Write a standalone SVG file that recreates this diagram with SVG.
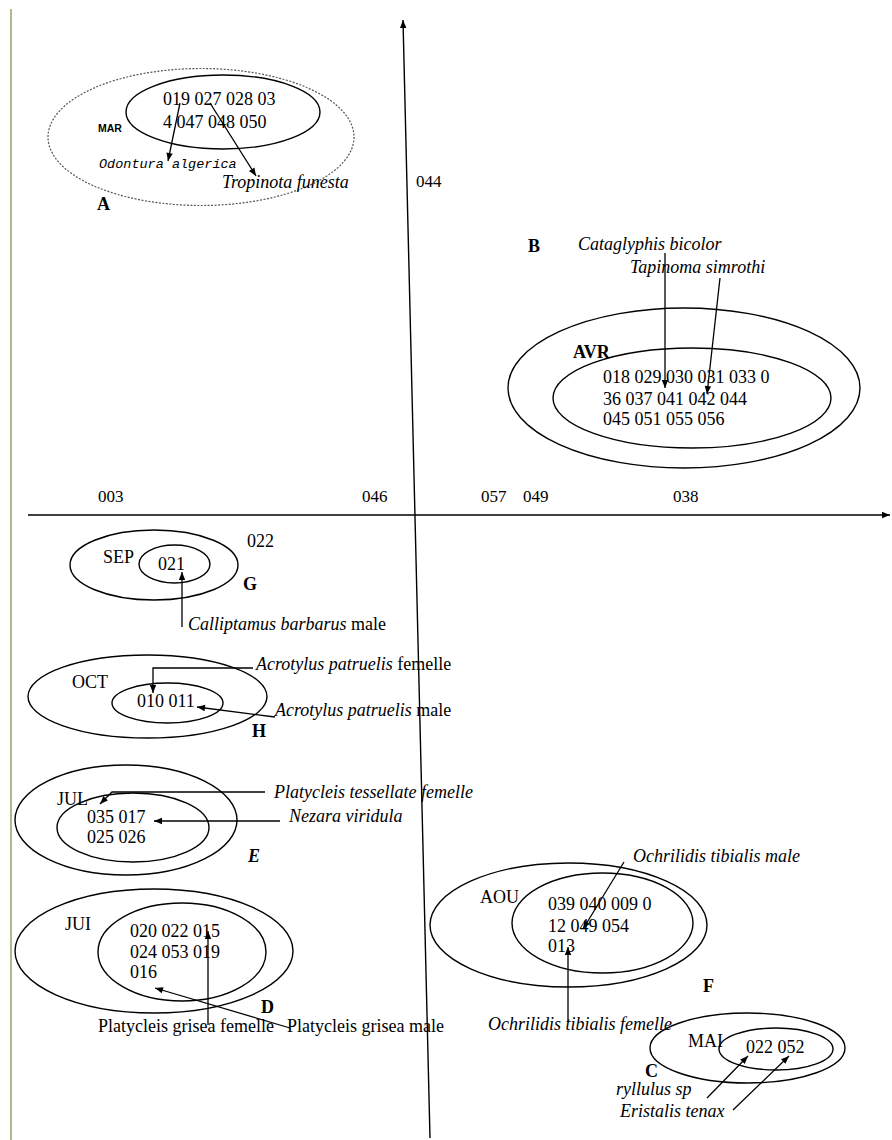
<svg xmlns="http://www.w3.org/2000/svg" width="892" height="1140" viewBox="0 0 892 1140">
<style>
text{font-family:"Liberation Serif","Times New Roman",serif;font-size:18px;fill:#000}
.i{font-style:italic}
.b{font-weight:bold}
.e{fill:none;stroke:#000;stroke-width:1.4}
.ln{fill:none;stroke:#000;stroke-width:1.3}
.ax{fill:none;stroke:#000;stroke-width:1.4}
.num{font-size:17px}
</style>
<defs>
<marker id="ah" viewBox="0 0 10 10" refX="10" refY="5" markerWidth="9" markerHeight="8" markerUnits="userSpaceOnUse" orient="auto"><path d="M0,1 L10,5 L0,9 z" fill="#000"/></marker>
</defs>
<rect width="892" height="1140" fill="#fff"/>
<line x1="11" y1="9" x2="11" y2="1140" stroke="#a9bc8c" stroke-width="2"/>
<g id="axes">
<line class="ax" x1="430" y1="1138" x2="403" y2="20" marker-end="url(#ah)"/>
<line class="ax" x1="28" y1="515" x2="890" y2="515" marker-end="url(#ah)"/>
<text x="416" y="187" class="num">044</text>
<text x="98" y="502" class="num">003</text>
<text x="362" y="502" class="num">046</text>
<text x="481" y="502" class="num">057</text>
<text x="523" y="502" class="num">049</text>
<text x="673" y="502" class="num">038</text>
</g>
<g id="cluster-A">
<ellipse cx="201" cy="137" rx="153" ry="68.5" fill="none" stroke="#555" stroke-width="1.2" stroke-dasharray="2,1.5"/>
<ellipse class="e" cx="223" cy="112" rx="97" ry="37"/>
<text x="163" y="105">019 027 028 03</text>
<text x="163" y="128">4 047 048 050</text>
<text x="98" y="132" style="font-family:'Liberation Sans',Arial,sans-serif;font-size:10.5px;font-weight:900">MAR</text>
<text x="99" y="168" class="i" style="font-family:'Liberation Mono','Courier New',monospace;font-size:13.5px">Odontura algerica</text>
<text x="222" y="188" class="i">Tropinota funesta</text>
<text x="97" y="210" class="b">A</text>
</g>
<g id="cluster-B">
<ellipse class="e" cx="684" cy="388" rx="176" ry="80"/>
<ellipse class="e" cx="692" cy="398" rx="139" ry="50"/>
<text x="528" y="252" class="b">B</text>
<text x="578" y="250" class="i">Cataglyphis bicolor</text>
<text x="630" y="273" class="i">Tapinoma simrothi</text>
<text x="573" y="358" class="b">AVR</text>
<text x="603" y="383">018 029 030 031 033 0</text>
<text x="603" y="405">36 037 041 042 044</text>
<text x="603" y="425">045 051 055 056</text>
</g>
<g id="cluster-G">
<ellipse class="e" cx="154" cy="565" rx="84" ry="35"/>
<ellipse class="e" cx="174.5" cy="564" rx="35.5" ry="19"/>
<text x="103" y="563">SEP</text>
<text x="158" y="570">021</text>
<text x="247" y="547">022</text>
<text x="243" y="590" class="b">G</text>
<text x="188" y="630"><tspan class="i">Calliptamus barbarus</tspan> male</text>
</g>
<g id="cluster-H">
<ellipse class="e" cx="147.5" cy="696.5" rx="119.5" ry="41.5"/>
<ellipse class="e" cx="167.5" cy="703" rx="55.5" ry="20"/>
<text x="72" y="688">OCT</text>
<text x="137" y="707">010 011</text>
<text x="252" y="737" class="b">H</text>
<text x="256" y="670"><tspan class="i">Acrotylus patruelis</tspan> femelle</text>
<text x="275" y="716"><tspan class="i">Acrotylus patruelis</tspan> male</text>
</g>
<g id="cluster-E">
<ellipse class="e" cx="126" cy="820" rx="111" ry="55"/>
<ellipse class="e" cx="133" cy="827.5" rx="76" ry="34.5"/>
<text x="57" y="805">JUL</text>
<text x="87" y="823">035 017</text>
<text x="87" y="843">025 026</text>
<text x="248" y="862" class="b i">E</text>
<text x="274" y="798" class="i">Platycleis tessellate femelle</text>
<text x="289" y="822" class="i">Nezara viridula</text>
</g>
<g id="cluster-D">
<ellipse class="e" cx="154" cy="951" rx="139" ry="62"/>
<ellipse class="e" cx="182" cy="952" rx="84" ry="49"/>
<text x="65" y="930">JUI</text>
<text x="130" y="937">020 022 015</text>
<text x="130" y="958">024 053 019</text>
<text x="130" y="978">016</text>
<text x="261" y="1013" class="b">D</text>
<text x="98" y="1032">Platycleis grisea femelle</text>
<text x="287" y="1032">Platycleis grisea male</text>
</g>
<g id="cluster-F">
<ellipse class="e" cx="568.5" cy="925" rx="138.5" ry="62"/>
<ellipse class="e" cx="602.5" cy="923" rx="90.5" ry="50"/>
<text x="480" y="903">AOU</text>
<text x="548" y="910">039 040 009 0</text>
<text x="548" y="932">12 049 054</text>
<text x="548" y="952">013</text>
<text x="703" y="992" class="b">F</text>
<text x="633" y="862" class="i">Ochrilidis tibialis male</text>
<text x="488" y="1030" class="i">Ochrilidis tibialis femelle</text>
</g>
<g id="cluster-C">
<ellipse class="e" cx="747.5" cy="1048" rx="97.5" ry="35"/>
<ellipse class="e" cx="776" cy="1049" rx="57" ry="21"/>
<text x="688" y="1047">MAI</text>
<text x="746" y="1053">022 052</text>
<text x="645" y="1077" class="b">C</text>
<text x="616" y="1095" class="i">ryllulus sp</text>
<text x="620" y="1117" class="i">Eristalis tenax</text>
</g>
<g id="connectors">
<line class="ln" x1="180" y1="103" x2="168" y2="161" marker-end="url(#ah)"/>
<line class="ln" x1="210" y1="103" x2="256" y2="176" marker-end="url(#ah)"/>
<line class="ln" x1="665" y1="253" x2="665" y2="388" marker-end="url(#ah)"/>
<line class="ln" x1="720" y1="278" x2="707" y2="394" marker-end="url(#ah)"/>
<line class="ln" x1="182" y1="627" x2="182" y2="572" marker-end="url(#ah)"/>
<polyline class="ln" points="253,668 153,668 153,693" marker-end="url(#ah)"/>
<line class="ln" x1="275" y1="717" x2="197" y2="707" marker-end="url(#ah)"/>
<polyline class="ln" points="265,792 112,792 100,804" marker-end="url(#ah)"/>
<line class="ln" x1="280" y1="821" x2="154" y2="821" marker-end="url(#ah)"/>
<line class="ln" x1="208" y1="1025" x2="208" y2="931" marker-end="url(#ah)"/>
<line class="ln" x1="290" y1="1028" x2="155" y2="988" marker-end="url(#ah)"/>
<line class="ln" x1="624" y1="862" x2="583" y2="929" marker-end="url(#ah)"/>
<line class="ln" x1="568" y1="1022" x2="568" y2="947" marker-end="url(#ah)"/>
<line class="ln" x1="707" y1="1098" x2="748" y2="1056" marker-end="url(#ah)"/>
<line class="ln" x1="733" y1="1110" x2="789" y2="1056" marker-end="url(#ah)"/>
</g>
</svg>
